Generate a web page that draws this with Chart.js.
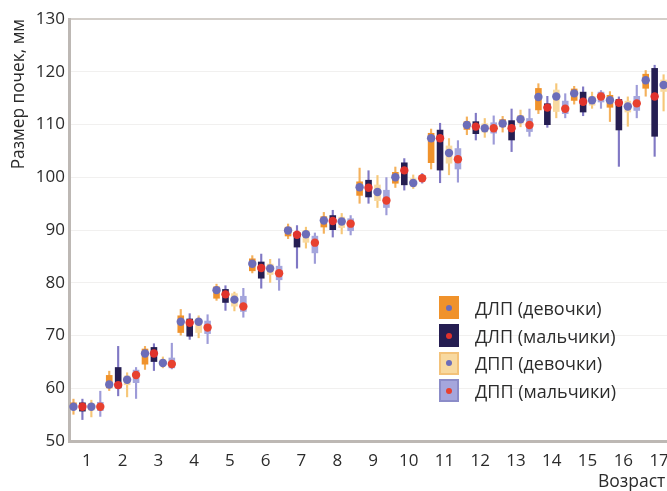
<!DOCTYPE html>
<html lang="ru">
<head>
<meta charset="utf-8">
<title>Размер почек по возрасту</title>
<script src="https://cdn.jsdelivr.net/npm/chart.js@4.4.1/dist/chart.umd.min.js"></script>
<style>
  html, body { margin: 0; padding: 0; background: #ffffff; overflow: hidden; }
  #wrap { position: relative; width: 667px; height: 491px; overflow: hidden; }
  #chart { position: absolute; left: 0; top: 0; }
  #legend { position: absolute; left: 439px; top: 294px; font: 18px "Open Sans", sans-serif; color: #2b2b2b; }
  #legend .row { display: flex; align-items: center; height: 27.7px; }
  #legend .sw { width: 20px; height: 23px; position: relative; box-sizing: border-box; margin-right: 16px; }
  #legend .sw i { position: absolute; left: 50%; top: 50%; width: 6px; height: 6px; margin: -3px 0 0 -3px; border-radius: 50%; }
  #xtitle { position: absolute; left: 598px; top: 468px; font: 17.5px "Open Sans", sans-serif; color: #2b2b2b; white-space: nowrap; }
</style>
</head>
<body>
<div id="wrap">
  <canvas id="chart" width="700" height="491"></canvas>
  <div id="legend"></div>
  <div id="xtitle">Возраст</div>
</div>
<script>
// Age groups, years
const ages = ['1', '2', '3', '4', '5', '6', '7', '8', '9', '10', '11', '12', '13', '14', '15', '16', '17'];
const seriesNames = ['ДЛП (девочки)', 'ДЛП (мальчики)', 'ДПП (девочки)', 'ДПП (мальчики)'];

// ДЛП, девочки (mm)
const dlpGirlsMedian = [56.5, 60.7, 66.6, 72.6, 78.6, 83.6, 89.9, 91.8, 98.1, 100.0, 107.4, 109.9, 110.2, 115.2, 115.9, 114.6, 118.4];
const dlpGirlsQ1     = [56.0, 60.0, 64.5, 70.5, 77.0, 82.2, 88.8, 90.5, 96.5, 98.8, 102.7, 109.0, 109.5, 112.7, 114.5, 113.2, 116.8];
const dlpGirlsQ3     = [57.3, 62.5, 67.5, 73.8, 79.3, 84.6, 90.6, 92.6, 99.2, 101.0, 108.4, 110.6, 111.0, 116.9, 116.8, 115.6, 119.6];
const dlpGirlsMin    = [55.0, 59.5, 63.5, 70.0, 76.6, 81.8, 88.3, 89.3, 95.0, 98.0, 101.5, 108.0, 108.5, 112.0, 113.8, 110.5, 115.3];
const dlpGirlsMax    = [58.0, 63.3, 68.0, 75.0, 79.8, 85.2, 91.2, 93.4, 101.8, 102.0, 109.2, 111.5, 111.6, 117.8, 117.3, 116.3, 120.3];

// ДЛП, мальчики (mm)
const dlpBoysMedian = [56.5, 60.6, 66.6, 72.4, 77.8, 82.8, 89.1, 91.7, 98.0, 101.3, 107.4, 109.6, 109.3, 113.2, 114.3, 114.1, 115.3];
const dlpBoysQ1     = [55.6, 60.0, 65.0, 69.8, 76.2, 80.8, 86.7, 90.0, 96.2, 98.5, 101.3, 108.2, 107.0, 109.9, 112.3, 108.9, 107.7];
const dlpBoysQ3     = [57.3, 64.0, 67.8, 73.2, 78.8, 84.0, 89.6, 92.8, 99.5, 102.8, 109.0, 110.6, 110.8, 114.0, 116.2, 114.8, 120.7];
const dlpBoysMin    = [54.0, 58.5, 63.3, 69.2, 74.7, 78.9, 82.7, 88.6, 95.0, 97.5, 98.9, 107.0, 104.8, 109.4, 111.6, 102.0, 103.9];
const dlpBoysMax    = [58.0, 68.0, 68.5, 74.2, 79.5, 85.5, 90.9, 93.8, 101.3, 103.6, 110.3, 112.2, 113.0, 115.4, 117.2, 115.3, 121.3];

// ДПП, девочки (mm)
const dppGirlsMedian = [56.5, 61.6, 64.8, 72.6, 76.8, 82.7, 89.2, 91.6, 97.2, 98.9, 104.6, 109.3, 111.0, 115.3, 114.6, 113.4, 117.5];
const dppGirlsQ1     = [55.8, 60.6, 64.2, 70.5, 75.5, 81.5, 87.6, 90.4, 95.5, 98.2, 102.6, 108.5, 110.2, 112.4, 113.6, 112.3, 116.2];
const dppGirlsQ3     = [57.2, 62.4, 65.5, 73.2, 78.0, 83.6, 90.0, 92.5, 98.6, 99.8, 106.0, 110.2, 111.8, 116.6, 115.4, 114.5, 118.5];
const dppGirlsMin    = [54.5, 58.3, 63.8, 69.5, 74.6, 80.0, 86.5, 89.2, 94.2, 97.8, 100.4, 107.5, 109.5, 111.2, 113.0, 109.6, 112.5];
const dppGirlsMax    = [57.8, 63.0, 66.0, 73.8, 78.3, 84.5, 90.6, 93.2, 100.4, 100.5, 107.4, 111.2, 112.8, 117.8, 116.2, 115.3, 119.5];

// ДПП, мальчики (mm)
const dppBoysMedian = [56.5, 62.5, 64.6, 71.5, 75.5, 81.8, 87.6, 91.2, 95.6, 99.8, 103.4, 109.3, 109.9, 113.0, 115.3, 114.0, 117.2];
const dppBoysQ1     = [55.7, 61.0, 63.8, 70.3, 74.5, 80.5, 85.6, 89.8, 94.2, 99.2, 101.5, 108.3, 108.6, 112.0, 114.2, 112.6, 116.0];
const dppBoysQ3     = [57.4, 63.5, 65.8, 72.8, 77.5, 83.2, 88.9, 92.2, 97.6, 100.4, 105.5, 110.4, 111.2, 114.5, 116.2, 115.4, 118.4];
const dppBoysMin    = [54.6, 58.0, 63.6, 68.4, 73.4, 78.5, 83.6, 89.0, 92.8, 98.8, 99.0, 106.2, 107.7, 111.2, 113.0, 111.2, 113.0];
const dppBoysMax    = [59.5, 64.0, 68.6, 74.0, 79.0, 84.6, 89.5, 92.8, 100.0, 100.8, 107.0, 111.7, 113.0, 115.9, 116.5, 117.5, 119.8];

const FONT = '"Open Sans", sans-serif';
const TEXT = '#2b2b2b';

const series = [
  { name: seriesNames[0], median: dlpGirlsMedian, q1: dlpGirlsQ1, q3: dlpGirlsQ3, min: dlpGirlsMin, max: dlpGirlsMax,
    box: '#f0922b', whisker: '#f4b15c', dot: '#6c6db9', swBorder: '#f0922b' },
  { name: seriesNames[1], median: dlpBoysMedian, q1: dlpBoysQ1, q3: dlpBoysQ3, min: dlpBoysMin, max: dlpBoysMax,
    box: '#251e52', whisker: '#8078c4', dot: '#e0322c', swBorder: '#251e52' },
  { name: seriesNames[2], median: dppGirlsMedian, q1: dppGirlsQ1, q3: dppGirlsQ3, min: dppGirlsMin, max: dppGirlsMax,
    box: '#f8d9a0', whisker: '#f6c778', dot: '#6c6db9', swBorder: '#f3c27a' },
  { name: seriesNames[3], median: dppBoysMedian, q1: dppBoysQ1, q3: dppBoysQ3, min: dppBoysMin, max: dppBoysMax,
    box: '#a5a6dc', whisker: '#9d9bd8', dot: '#e8412f', swBorder: '#8b8cc8' }
];

// Boxes (interquartile range) share a slot with their whisker via the stack id
const datasets = [];
const boxIndex = [];
series.forEach((s, i) => {
  boxIndex.push(datasets.length);
  datasets.push({
    label: s.name,
    data: ages.map((_, k) => [s.q1[k], s.q3[k]]),
    backgroundColor: s.box,
    stack: 's' + i,
    order: 1,
    barPercentage: 0.74,
    categoryPercentage: 1.0,
    borderSkipped: false
  });
});
series.forEach((s, i) => {
  datasets.push({
    label: s.name + ' (размах)',
    data: ages.map((_, k) => [s.min[k], s.max[k]]),
    backgroundColor: s.whisker,
    stack: 's' + i,
    order: 2,
    barPercentage: 0.24,
    categoryPercentage: 1.0,
    borderSkipped: false
  });
});

// Median markers drawn on top of each box
const medianDots = {
  id: 'medianDots',
  afterDatasetsDraw(chart) {
    const { ctx, chartArea, scales: { y } } = chart;
    ctx.save();
    ctx.beginPath();
    ctx.rect(chartArea.left, chartArea.top, chartArea.right - chartArea.left, chartArea.bottom - chartArea.top);
    ctx.clip();
    series.forEach((s, i) => {
      const meta = chart.getDatasetMeta(boxIndex[i]);
      meta.data.forEach((bar, k) => {
        const py = y.getPixelForValue(s.median[k]);
        ctx.beginPath();
        ctx.arc(bar.x, py, 4.2, 0, Math.PI * 2);
        ctx.fillStyle = s.dot;
        ctx.fill();
      });
    });
    ctx.restore();
  }
};

new Chart(document.getElementById('chart'), {
  type: 'bar',
  data: { labels: ages, datasets },
  options: {
    responsive: false,
    animation: false,
    devicePixelRatio: 1,
    layout: { padding: { top: 19, right: 23, bottom: 20, left: 0 } },
    plugins: { legend: { display: false }, tooltip: { enabled: false } },
    scales: {
      x: {
        type: 'category',
        offset: true,
        grid: { display: false, drawTicks: false },
        border: { display: true, color: '#bdb8b4', width: 3 },
        ticks: { color: TEXT, font: { family: FONT, size: 17 }, padding: 10, maxRotation: 0, autoSkip: false },
        afterFit(scale) { scale.height = 30; }
      },
      y: {
        min: 50,
        max: 130,
        stacked: false,
        grid: {
          drawTicks: false,
          color: (c) => (c.tick && c.tick.value === 130) ? '#d3cec9' : '#f1f0ef',
          lineWidth: (c) => (c.tick && c.tick.value === 130) ? 2 : 1
        },
        border: { display: true, color: '#bdb8b4', width: 3 },
        ticks: { stepSize: 10, color: TEXT, font: { family: FONT, size: 17 }, padding: 4 },
        title: {
          display: true,
          text: 'Размер почек, мм',
          align: 'end',
          color: TEXT,
          font: { family: FONT, size: 17.3 },
          padding: { top: 9, bottom: 0 }
        },
        afterFit(scale) { scale.width = 69; }
      }
    }
  },
  plugins: [medianDots]
});

// Legend built from the series table
const legend = document.getElementById('legend');
series.forEach((s) => {
  const row = document.createElement('div');
  row.className = 'row';
  const sw = document.createElement('span');
  sw.className = 'sw';
  sw.style.background = s.box;
  sw.style.border = '2px solid ' + s.swBorder;
  const dot = document.createElement('i');
  dot.style.background = s.dot;
  sw.appendChild(dot);
  const label = document.createElement('span');
  label.textContent = s.name;
  row.appendChild(sw);
  row.appendChild(label);
  legend.appendChild(row);
});
</script>
</body>
</html>
